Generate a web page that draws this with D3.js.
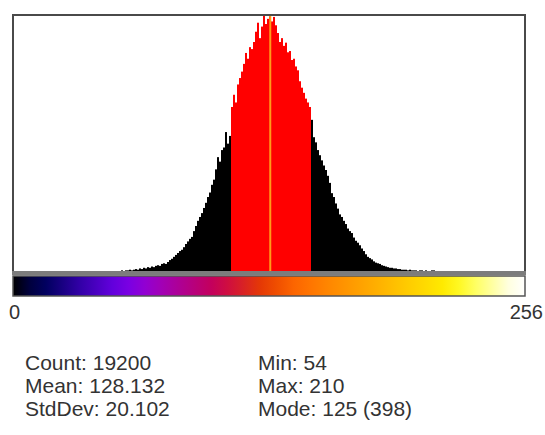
<!DOCTYPE html>
<html>
<head>
<meta charset="UTF-8">
<title>Histogram</title>
<script src="https://d3js.org/d3.v7.min.js"></script>
<style>
  * { margin: 0; padding: 0; box-sizing: border-box; }
  body { background: #fff; font-family: "Liberation Sans", Arial, sans-serif; }
</style>
</head>
<body>
<div id="chart"></div>
<script>
// grey levels 54..210 and their pixel counts
const firstBin = 54;
const counts = [
  1, 0, 1, 1, 2, 1, 2, 3, 2, 4, 3, 5, 4, 6, 5, 7, 6, 8, 9, 8,          // 54-73
  11, 12, 11, 14, 17, 19, 22, 25, 28, 31, 33, 37, 42, 46, 50, 53,      // 74-89
  62, 70, 78, 84, 90, 98, 106, 115, 122, 134, 142,                     // 90-100
  158, 177, 170, 188, 192, 216, 198, 210,                              // 101-108
  255, 274, 262, 290, 300, 310, 322, 339, 330, 348, 345, 356,          // 109-120
  372, 386, 362, 380, 398, 384, 392, 396, 388, 395, 382, 370,          // 121-132
  356, 362, 350, 355, 340, 342, 328, 330, 318, 312, 295, 285,          // 133-144
  277, 268, 262, 255,                                                  // 145-148
  235, 208, 200, 188, 180, 172, 164, 157, 148, 137,                    // 149-158
  121, 115, 105, 97, 88, 84, 78, 73, 66, 62, 59, 52,                   // 159-170
  47, 44, 40, 35, 31, 26, 22, 20, 18, 15, 13, 12,                      // 171-182
  11, 9, 8, 7, 6, 5, 5, 4, 4, 3, 3, 2, 2, 2, 1, 2, 1, 1, 1, 0,         // 183-202
  1, 1, 0, 1, 0, 0, 1, 1                                               // 203-210
];
const data = counts.map((c, i) => ({ v: firstBin + i, c }));

const statLabels = ["Count", "Mean", "StdDev", "Min", "Max", "Mode"];
const statValues = ["19200", "128.132", "20.102", "54", "210", "125 (398)"];
const mean = 128.132, stdDev = 20.102, modeCount = 398;
const axisLabels = ["0", "256"];

const W = 545, H = 435;
const svg = d3.select("#chart").append("svg")
  .attr("width", W).attr("height", H);

const x = d3.scaleLinear().domain([0, 256]).range([13, 525]);
const y = d3.scaleLinear().domain([0, modeCount]).range([271, 15]);

// bars
svg.append("g").selectAll("rect")
  .data(data)
  .enter().append("rect")
  .attr("x", d => x(d.v))
  .attr("width", x(1) - x(0))
  .attr("y", d => y(d.c))
  .attr("height", d => y(0) - y(d.c))
  .attr("fill", d => (d.v >= mean - stdDev && d.v <= mean + stdDev) ? "#ff0000" : "#000000");

// mean line
svg.append("line")
  .attr("x1", x(mean) + 1).attr("x2", x(mean) + 1)
  .attr("y1", y(0)).attr("y2", y(modeCount))
  .attr("stroke", "#ff9a1a").attr("stroke-width", 2);

// frame
svg.append("rect")
  .attr("x", 13).attr("y", 15)
  .attr("width", 512).attr("height", 257)
  .attr("fill", "none").attr("stroke", "#4a4a4a").attr("stroke-width", 2);

svg.append("rect")
  .attr("x", 12).attr("y", 271)
  .attr("width", 514).attr("height", 4)
  .attr("fill", "#7c7c7c");

// fire LUT colour bar
const fireR = [0,0,1,25,49,73,98,122,146,162,173,184,195,207,217,229,240,252,255,255,255,255,255,255,255,255,255,255,255,255,255,255];
const fireG = [0,0,0,0,0,0,0,0,0,0,0,0,0,14,35,57,79,101,117,133,147,161,175,190,205,219,234,248,255,255,255,255];
const fireB = [0,61,96,130,165,192,220,227,210,181,151,122,93,64,35,5,0,0,0,0,0,0,0,0,0,0,0,35,98,160,223,255];

const grad = svg.append("defs").append("linearGradient")
  .attr("id", "fire").attr("x1", "0%").attr("x2", "100%");
fireR.forEach((r, i) => {
  grad.append("stop")
    .attr("offset", (i / (fireR.length - 1) * 100) + "%")
    .attr("stop-color", d3.rgb(r, fireG[i], fireB[i]));
});

svg.append("rect")
  .attr("x", 13).attr("y", 276)
  .attr("width", 512).attr("height", 20)
  .attr("fill", "url(#fire)")
  .attr("stroke", "#555").attr("stroke-width", 1.5);

// axis labels
svg.append("text")
  .attr("x", 9).attr("y", 319)
  .style("font-size", "20px").attr("fill", "#333")
  .text(axisLabels[0]);
svg.append("text")
  .attr("x", 543).attr("y", 319)
  .attr("text-anchor", "end")
  .style("font-size", "20px").attr("fill", "#333")
  .text(axisLabels[1]);

// statistics
statLabels.forEach((lab, i) => {
  const col = Math.floor(i / 3), row = i % 3;
  svg.append("text")
    .attr("x", col === 0 ? 25 : 258)
    .attr("y", 370 + row * 23)
    .style("font-size", "21px").attr("fill", "#333")
    .text(`${lab}: ${statValues[i]}`);
});
</script>
</body>
</html>
